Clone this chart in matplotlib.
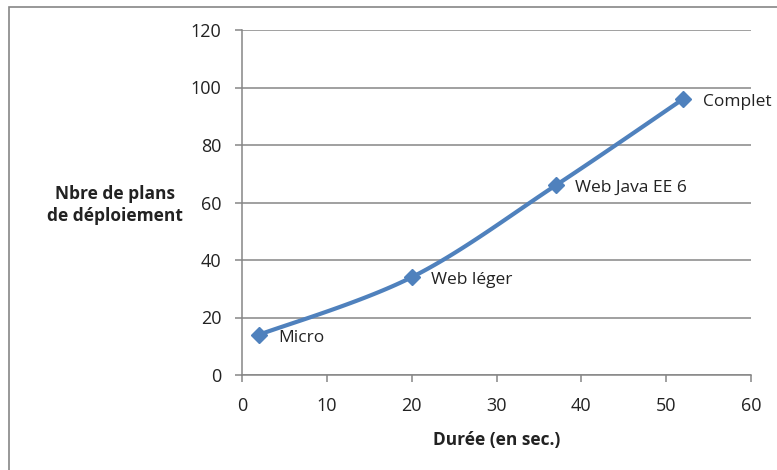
import matplotlib
matplotlib.use('Agg')
import matplotlib.pyplot as plt
from matplotlib.patches import Rectangle
import numpy as np

# data
durees = [2, 20, 37, 52]
plans = [14, 34, 66, 96]
noms = ['Micro', 'Web léger', 'Web Java EE 6', 'Complet']
x_ticks = [0, 10, 20, 30, 40, 50, 60]
y_ticks = [0, 20, 40, 60, 80, 100, 120]

BLUE = '#4F81BD'
GREY = '#868686'
TEXT = '#222222'

plt.rcParams['font.family'] = ['Open Sans', 'DejaVu Sans']


def smooth(x, y, steps=40):
    """Catmull-Rom curve through the points, like Excel's smoothed line."""
    x = np.asarray(x, float)
    y = np.asarray(y, float)
    px = np.concatenate([[x[0]], x, [x[-1]]])
    py = np.concatenate([[y[0]], y, [y[-1]]])
    t = np.linspace(0, 1, steps)
    xs, ys = [], []
    for i in range(1, len(px) - 2):
        for p, out in ((px, xs), (py, ys)):
            p0, p1, p2, p3 = p[i - 1], p[i], p[i + 1], p[i + 2]
            out.extend(p1 * (1 - t) ** 3
                       + (p1 + (p2 - p0) / 6) * 3 * t * (1 - t) ** 2
                       + (p2 - (p3 - p1) / 6) * 3 * t ** 2 * (1 - t)
                       + p2 * t ** 3)
    return np.array(xs), np.array(ys)


fig = plt.figure(figsize=(7.77, 4.70), dpi=100)
# chart frame, cut off at the right and bottom edges of the picture
fig.patches.append(Rectangle((9 / 777, -0.02), 1.05, 0.985 + 0.02,
                             transform=fig.transFigure, fill=False,
                             edgecolor=GREY, linewidth=1.2))
ax = fig.add_axes([242 / 777, 95 / 470, 509 / 777, 345 / 470])

sx, sy = smooth(durees, plans)
ax.plot(sx, sy, color=BLUE, linewidth=3, solid_capstyle='round', zorder=3)
ax.plot(durees, plans, linestyle='none', marker='D', markersize=8.5,
        color=BLUE, zorder=4)
for x, y, n in zip(durees, plans, noms):
    ax.annotate(n, (x, y), xytext=(14, -2), textcoords='offset points',
                ha='left', va='center', fontsize=12.5, color=TEXT)

ax.set_xlim(0, 60)
ax.set_ylim(0, 120)
ax.set_xticks(x_ticks)
ax.set_yticks(y_ticks)
ax.grid(axis='y', color=GREY, linewidth=1.1)
ax.set_axisbelow(True)
for s in ('top', 'right'):
    ax.spines[s].set_visible(False)
for s in ('left', 'bottom'):
    ax.spines[s].set_color(GREY)
    ax.spines[s].set_linewidth(1.1)
ax.tick_params(axis='both', direction='out', length=5, width=1.1, color=GREY,
               labelsize=13, labelcolor=TEXT)
ax.tick_params(axis='x', pad=11)
ax.tick_params(axis='y', pad=10)

ax.set_xlabel('Durée (en sec.)', fontsize=12.5, fontweight='bold',
              color=TEXT, labelpad=11)
fig.text(115 / 777, 1 - 205 / 470, 'Nbre de plans\nde déploiement',
         ha='center', va='center', fontsize=12.5, fontweight='bold',
         color=TEXT, linespacing=1.35)

fig.savefig('out.png', dpi=100)
